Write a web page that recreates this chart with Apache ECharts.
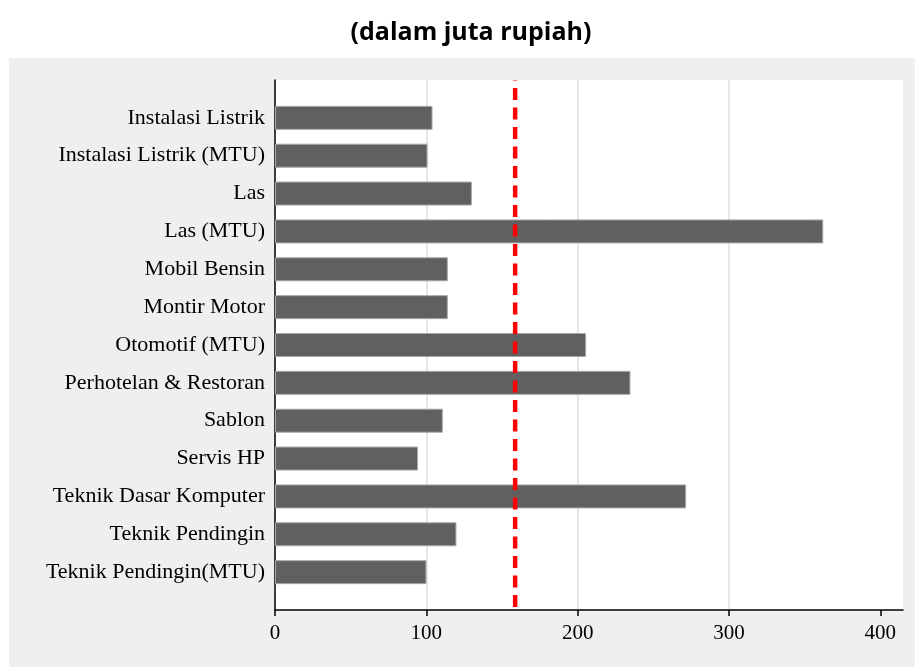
<!DOCTYPE html>
<html>
<head>
<meta charset="utf-8">
<title>Rata-rata pendapatan per kejuruan</title>
<script src="https://cdn.jsdelivr.net/npm/echarts@6/dist/echarts.min.js"></script>
<style>
  html, body { margin: 0; padding: 0; background: #ffffff; }
  #chart { width: 915px; height: 667px; }
</style>
</head>
<body>
<div id="chart"></div>
<script>
// Kejuruan (urutan dari atas ke bawah)
const categories = [
  'Instalasi Listrik',
  'Instalasi Listrik (MTU)',
  'Las',
  'Las (MTU)',
  'Mobil Bensin',
  'Montir Motor',
  'Otomotif (MTU)',
  'Perhotelan & Restoran',
  'Sablon',
  'Servis HP',
  'Teknik Dasar Komputer',
  'Teknik Pendingin',
  'Teknik Pendingin(MTU)'
];

// Nilai per kejuruan (juta rupiah)
const values = [104.1, 100.8, 130.1, 362.3, 114.2, 114.2, 205.6, 234.9, 110.9, 94.5, 271.7, 119.9, 100.1];

// Garis rata-rata (juta rupiah)
const averageValue = 158.7;

// Label sumbu nilai
const xTickValues = [0, 100, 200, 300, 400];
const xMax = 415;

const chart = echarts.init(document.getElementById('chart'), null, { renderer: 'canvas' });

// Plot frame spans 80..610; category rows sit one half-band inside it
const frameTop = 80, frameBottom = 57;
const band = (667 - frameTop - frameBottom) / (categories.length + 1);

const option = {
  animation: false,
  backgroundColor: '#ffffff',
  graphic: [{
    type: 'rect',
    z: -10,
    silent: true,
    shape: { x: 9, y: 58, width: 906, height: 609 },
    style: { fill: '#efefef' }
  }],
  title: {
    text: '(dalam juta rupiah)',
    left: 466,
    textAlign: 'center',
    top: 15,
    textStyle: {
      fontFamily: 'Open Sans',
      fontWeight: 'bold',
      fontSize: 25,
      color: '#000000'
    }
  },
  grid: [
    {
      // bars
      left: 275, right: 12,
      top: frameTop + band / 2,
      bottom: frameBottom + band / 2,
      containLabel: false
    },
    {
      // frame, axes, gridlines
      left: 275, right: 12,
      top: frameTop, bottom: frameBottom,
      show: true,
      backgroundColor: '#ffffff',
      borderWidth: 0,
      containLabel: false
    }
  ],
  xAxis: [
    {
      gridIndex: 0,
      type: 'value',
      min: 0, max: xMax,
      show: false
    },
    {
      gridIndex: 1,
      type: 'value',
      min: 0, max: xMax,
      interval: 100,
      axisLine: { show: true, lineStyle: { color: '#000000', width: 1.5 } },
      axisTick: {
        show: true, inside: false, length: 6,
        customValues: xTickValues,
        lineStyle: { color: '#000000', width: 1.5 }
      },
      axisLabel: {
        customValues: xTickValues,
        margin: 13,
        fontFamily: 'Liberation Serif',
        fontSize: 21,
        color: '#000000'
      },
      splitLine: {
        show: true,
        showMinLine: false,
        showMaxLine: false,
        lineStyle: { color: '#dedede', width: 1.5 }
      }
    }
  ],
  yAxis: [
    {
      gridIndex: 0,
      type: 'category',
      inverse: true,
      data: categories,
      axisLine: { show: false },
      axisTick: { show: false },
      splitLine: { show: false },
      axisLabel: {
        margin: 10,
        fontFamily: 'Liberation Serif',
        fontSize: 22,
        color: '#000000'
      }
    },
    {
      gridIndex: 1,
      type: 'value',
      min: 0, max: 1,
      axisLine: { show: true, lineStyle: { color: '#000000', width: 1.5 } },
      axisTick: { show: false },
      axisLabel: { show: false },
      splitLine: { show: false }
    }
  ],
  series: [
    {
      type: 'bar',
      xAxisIndex: 0,
      yAxisIndex: 0,
      data: values,
      barWidth: 24,
      itemStyle: {
        color: '#606060',
        borderColor: '#a8a8a8',
        borderWidth: 1
      },
      z: 3
    },
    {
      // rata-rata
      type: 'line',
      xAxisIndex: 1,
      yAxisIndex: 1,
      data: [[averageValue, 0], [averageValue, 1]],
      symbol: 'none',
      lineStyle: {
        color: '#ff0000',
        width: 4.5,
        type: [12, 7.5],
        dashOffset: -3
      },
      z: 5
    }
  ]
};

chart.setOption(option);
</script>
</body>
</html>
